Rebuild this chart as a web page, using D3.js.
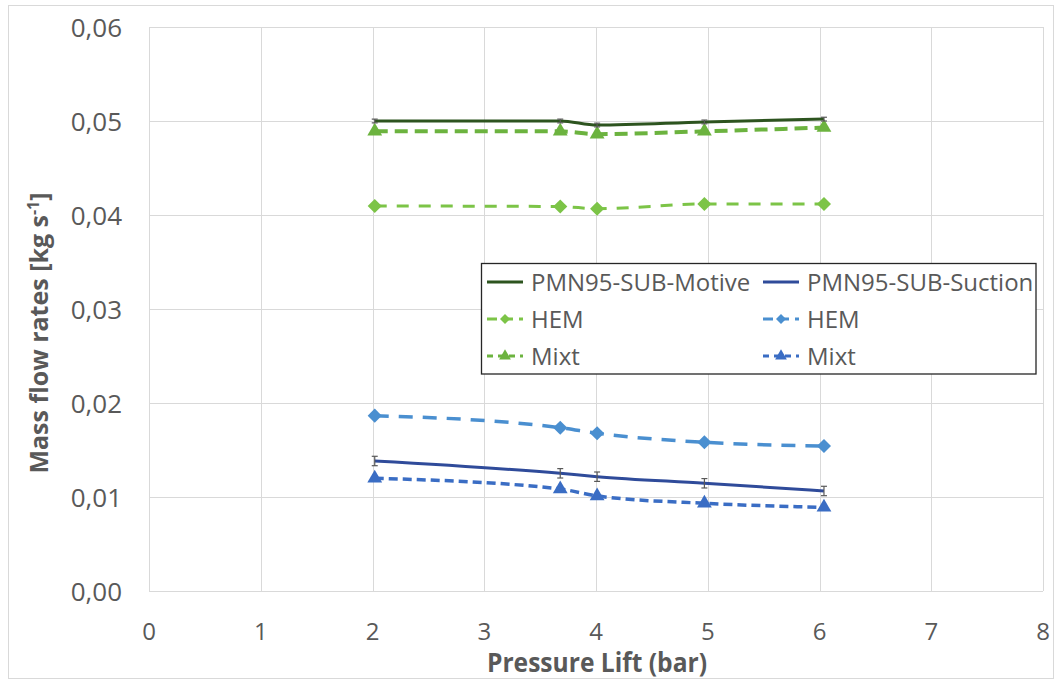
<!DOCTYPE html>
<html><head><meta charset="utf-8">
<script src="https://cdn.jsdelivr.net/npm/d3@7"></script>
<style>
body{margin:0;background:#fff;}
text{font-family:"Open Sans","Noto Sans",sans-serif;}
</style></head>
<body>
<svg id="c" width="1061" height="684"></svg>
<script>
const pressureLift = [2.02, 3.68, 4.01, 4.97, 6.04];
const motive = [0.0500, 0.0500, 0.04957, 0.0499, 0.0502];
const motiveErr = [0.0002, 0.0002, 0.0002, 0.0002, 0.0002];
const motiveHEM = [0.04096, 0.0409, 0.04067, 0.04117, 0.04117];
const motiveMixt = [0.0489, 0.0489, 0.0486, 0.0489, 0.0493];
const suction = [0.01383, 0.01252, 0.01216, 0.01146, 0.01064];
const suctionErr = [0.0005, 0.0005, 0.0005, 0.0005, 0.0005];
const suctionHEM = [0.01865, 0.01737, 0.01678, 0.01582, 0.01543];
const suctionMixt = [0.01199, 0.01085, 0.01011, 0.00933, 0.0089];
const xTicks = [0,1,2,3,4,5,6,7,8];
const yTicks = [0,0.01,0.02,0.03,0.04,0.05,0.06];

const svg = d3.select("#c");
const L=149, R=1043, T=27, B=591;
const x = d3.scaleLinear().domain([0,8]).range([L,R]);
const y = d3.scaleLinear().domain([0,0.06]).range([B,T]);

svg.append("rect").attr("x",8.5).attr("y",5.5).attr("width",1045).attr("height",673)
  .attr("fill","#fff").attr("stroke","#d9d9d9");

// grid
svg.append("g").selectAll("line").data(yTicks).join("line")
  .attr("x1",L).attr("x2",R).attr("y1",d=>Math.round(y(d))+0.5).attr("y2",d=>Math.round(y(d))+0.5)
  .attr("stroke","#d9d9d9").attr("stroke-width",1);
svg.append("g").selectAll("line").data(xTicks).join("line")
  .attr("y1",T).attr("y2",B).attr("x1",d=>Math.round(x(d))+0.5).attr("x2",d=>Math.round(x(d))+0.5)
  .attr("stroke","#d9d9d9").attr("stroke-width",1);

// tick labels
const fmt = d=>d.toFixed(2).replace(".",",");
svg.append("g").selectAll("text").data(yTicks).join("text")
  .attr("x",122).attr("y",d=>y(d)+9.5).attr("text-anchor","end")
  .attr("font-size",26).attr("fill","#595959").text(fmt);
svg.append("g").selectAll("text").data(xTicks).join("text")
  .attr("x",d=>x(d)).attr("y",640).attr("text-anchor","middle")
  .attr("font-size",24).attr("fill","#595959").text(d=>d);

svg.append("text").attr("x",597).attr("y",672).attr("text-anchor","middle")
  .attr("font-size",26).attr("font-weight","bold").attr("fill","#595959")
  .attr("textLength",220).attr("lengthAdjust","spacingAndGlyphs").text("Pressure Lift (bar)");
const yt = svg.append("text").attr("transform","translate(48,333) rotate(-90)").attr("text-anchor","middle")
  .attr("font-size",25).attr("font-weight","bold").attr("fill","#595959");
yt.append("tspan").text("Mass flow rates [kg s");
yt.append("tspan").attr("dy",-9).attr("font-size",16).text("-1");
yt.append("tspan").attr("dy",9).text("]");

const series = [
  {vals:motiveMixt, color:"#6cb33f", dash:"13,7", width:4, marker:"tri", label:"Mixt"},
  {vals:motiveHEM, color:"#7cc447", dash:"12,10", width:3, marker:"dia", label:"HEM"},
  {vals:motive, color:"#2d541f", dash:null, width:3, marker:null, err:motiveErr, label:"PMN95-SUB-Motive"},
  {vals:suctionHEM, color:"#4a8fd0", dash:"14,10", width:3.5, marker:"dia", label:"HEM"},
  {vals:suctionMixt, color:"#3a6dc4", dash:"9,5", width:3.5, marker:"tri", label:"Mixt"},
  {vals:suction, color:"#2f4b9a", dash:null, width:3, marker:null, err:suctionErr, label:"PMN95-SUB-Suction"},
];
const line = d3.line().x(d=>x(d[0])).y(d=>y(d[1])).curve(d3.curveMonotoneX);
const sym = {tri:d3.symbol().type(d3.symbolTriangle).size(95), dia:d3.symbol().type(d3.symbolSquare).size(100)};
const rot = {tri:0, dia:45};

series.forEach(s=>{
  const pts = pressureLift.map((p,i)=>[p,s.vals[i]]);
  const p = svg.append("path").datum(pts).attr("d",line).attr("fill","none")
    .attr("stroke",s.color).attr("stroke-width",s.width);
  if(s.dash) p.attr("stroke-dasharray",s.dash);
  if(s.err){
    const g = svg.append("g").attr("stroke","#595959").attr("stroke-width",1.2);
    pts.forEach((d,i)=>{
      const xx=x(d[0]), y1=y(d[1]-s.err[i]), y2=y(d[1]+s.err[i]);
      g.append("line").attr("x1",xx).attr("x2",xx).attr("y1",y1).attr("y2",y2);
      g.append("line").attr("x1",xx-3).attr("x2",xx+3).attr("y1",y1).attr("y2",y1);
      g.append("line").attr("x1",xx-3).attr("x2",xx+3).attr("y1",y2).attr("y2",y2);
    });
  }
  if(s.marker){
    svg.append("g").selectAll("path").data(pts).join("path")
      .attr("d",sym[s.marker]).attr("transform",d=>`translate(${x(d[0])},${y(d[1])}) rotate(${rot[s.marker]})`)
      .attr("fill",s.color);
  }
});

// legend
const lg = svg.append("g");
lg.append("rect").attr("x",481.5).attr("y",263.5).attr("width",554.5).attr("height",110.5)
  .attr("fill","#fff").attr("stroke","#262626").attr("stroke-width",1.3);
const legItems = [
  {s:series[2], col:0,row:0},{s:series[5], col:1,row:0},
  {s:series[1], col:0,row:1},{s:series[3], col:1,row:1},
  {s:series[0], col:0,row:2},{s:series[4], col:1,row:2},
];
const colX=[487,763], rowY=[282,319,356];
legItems.forEach(it=>{
  const x0=colX[it.col], yy=rowY[it.row], s=it.s;
  const l = lg.append("line").attr("x1",x0).attr("x2",x0+36).attr("y1",yy).attr("y2",yy)
    .attr("stroke",s.color).attr("stroke-width",3);
  if(s.dash) l.attr("stroke-dasharray", s.marker==="tri" ? "6,5" : "10,6");
  if(s.marker){
    const sz = s.marker==="tri" ? 60 : 50;
    lg.append("path").attr("d",d3.symbol().type(s.marker==="tri"?d3.symbolTriangle:d3.symbolSquare).size(sz)())
      .attr("transform",`translate(${x0+18},${yy}) rotate(${rot[s.marker]})`).attr("fill",s.color);
  }
  lg.append("text").attr("x",x0+44).attr("y",yy+9).attr("font-size",24).attr("fill","#595959").text(s.label);
});
</script>
</body></html>
